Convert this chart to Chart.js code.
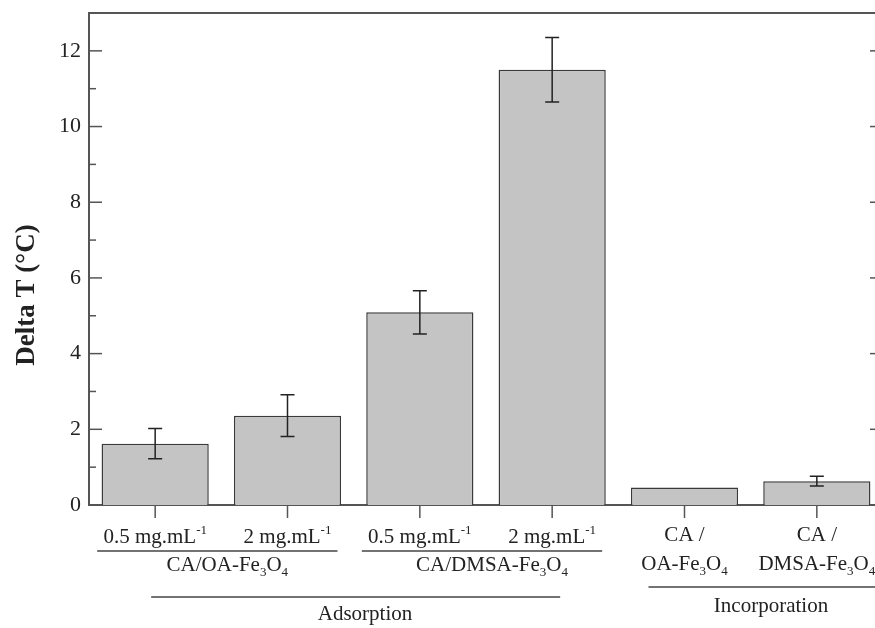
<!DOCTYPE html>
<html>
<head>
<meta charset="utf-8">
<script src="https://cdn.jsdelivr.net/npm/chart.js@4/dist/chart.umd.min.js"></script>
<style>
  html, body { margin: 0; padding: 0; background: #fff; overflow: hidden; }
  #wrap { width: 890px; height: 628px; }
</style>
</head>
<body>
<div id="wrap"><canvas id="heatChart" width="890" height="628"></canvas></div>
<script>
// values
const categories = ['CA/OA 0.5', 'CA/OA 2', 'CA/DMSA 0.5', 'CA/DMSA 2', 'Inc CA/OA', 'Inc CA/DMSA'];
const deltaT = [1.62, 2.36, 5.09, 11.5, 0.46, 0.63];
const deltaErr = [0.40, 0.55, 0.57, 0.85, 0, 0.13];
const yTicks = [0, 1, 2, 3, 4, 5, 6, 7, 8, 9, 10, 11, 12];

// tick labels (^{} = superscript, _{} = subscript)
const tickRow1 = ['0.5 mg.mL^{-1}', '2 mg.mL^{-1}', '0.5 mg.mL^{-1}', '2 mg.mL^{-1}', 'CA /', 'CA /'];
const tickRow2 = ['', '', '', '', 'OA-Fe_{3}O_{4}', 'DMSA-Fe_{3}O_{4}'];
const materialGroups = [
  { label: 'CA/OA-Fe_{3}O_{4}', from: 0, to: 1 },
  { label: 'CA/DMSA-Fe_{3}O_{4}', from: 2, to: 3 }
];
const methodGroups = [
  { label: 'Adsorption', from: 0, to: 3 },
  { label: 'Incorporation', from: 4, to: 5 }
];

const FONT = '"Liberation Serif", "Times New Roman", serif';
const INK = '#222';
const AXIS = '#555';
const LABEL_SIZE = 21;

function parseRich(str) {
  const segs = [];
  const re = /([_^])\{([^}]*)\}/g;
  let last = 0, m;
  while ((m = re.exec(str)) !== null) {
    if (m.index > last) segs.push({ t: str.slice(last, m.index), k: '' });
    segs.push({ t: m[2], k: m[1] });
    last = re.lastIndex;
  }
  if (last < str.length) segs.push({ t: str.slice(last), k: '' });
  return segs;
}

function drawRich(ctx, str, cx, y, size) {
  const segs = parseRich(str);
  const small = Math.round(size * 0.62);
  let total = 0;
  segs.forEach(s => {
    ctx.font = (s.k ? small : size) + 'px ' + FONT;
    s.w = ctx.measureText(s.t).width;
    total += s.w;
  });
  let x = cx - total / 2;
  ctx.textAlign = 'left';
  ctx.textBaseline = 'alphabetic';
  segs.forEach(s => {
    ctx.font = (s.k ? small : size) + 'px ' + FONT;
    let dy = 0;
    if (s.k === '^') dy = -size * 0.42;
    if (s.k === '_') dy = size * 0.22;
    ctx.fillText(s.t, x, y + dy);
    x += s.w;
  });
}

function hline(ctx, x1, x2, y) {
  ctx.beginPath();
  ctx.moveTo(x1, y);
  ctx.lineTo(x2, y);
  ctx.stroke();
}

const decorations = {
  id: 'decorations',
  afterDatasetsDraw(chart) {
    const { ctx, chartArea: a, scales: { x, y } } = chart;
    const meta = chart.getDatasetMeta(0);
    ctx.save();

    // error bars
    ctx.strokeStyle = INK;
    ctx.lineWidth = 1.5;
    deltaT.forEach((v, i) => {
      const e = deltaErr[i];
      if (!e) return;
      const bx = meta.data[i].x;
      const yt = y.getPixelForValue(v + e);
      const yb = y.getPixelForValue(v - e);
      ctx.beginPath();
      ctx.moveTo(bx, yt); ctx.lineTo(bx, yb);
      ctx.moveTo(bx - 7, yt); ctx.lineTo(bx + 7, yt);
      ctx.moveTo(bx - 7, yb); ctx.lineTo(bx + 7, yb);
      ctx.stroke();
    });

    // frame: top and right
    ctx.strokeStyle = AXIS;
    ctx.lineWidth = 2;
    hline(ctx, a.left - 1, a.right + 1, a.top);
    ctx.beginPath();
    ctx.moveTo(a.right, a.top); ctx.lineTo(a.right, a.bottom);
    ctx.stroke();

    // y ticks pointing inward, both sides
    ctx.lineWidth = 1.5;
    yTicks.forEach(v => {
      const py = y.getPixelForValue(v);
      const len = v % 2 === 0 ? 13 : 7;
      hline(ctx, a.left, a.left + len, py);
      hline(ctx, a.right - len, a.right, py);
    });

    // x ticks pointing down
    categories.forEach((c, i) => {
      const px = x.getPixelForValue(i);
      ctx.beginPath();
      ctx.moveTo(px, a.bottom); ctx.lineTo(px, a.bottom + 13);
      ctx.stroke();
    });

    // tick labels
    ctx.fillStyle = INK;
    tickRow1.forEach((t, i) => {
      const px = x.getPixelForValue(i);
      drawRich(ctx, t, px, i >= 4 ? 541 : 543, LABEL_SIZE);
    });
    tickRow2.forEach((t, i) => {
      if (t) drawRich(ctx, t, x.getPixelForValue(i), 570, LABEL_SIZE);
    });

    // group brackets
    ctx.strokeStyle = '#444';
    ctx.lineWidth = 1.5;
    materialGroups.forEach(g => {
      const x1 = x.getPixelForValue(g.from) - 58;
      const x2 = x.getPixelForValue(g.to) + 50;
      hline(ctx, x1, x2, 551);
      drawRich(ctx, g.label, (x1 + x2) / 2 + 10, 571, LABEL_SIZE);
    });
    methodGroups.forEach((g, k) => {
      const x1 = x.getPixelForValue(g.from) - (k === 0 ? 4 : 36);
      const x2 = k === 0 ? x.getPixelForValue(g.to) + 8 : a.right + 10;
      const ly = k === 0 ? 597 : 587;
      hline(ctx, x1, x2, ly);
      drawRich(ctx, g.label, k === 0 ? 365 : 771, k === 0 ? 620 : 612, LABEL_SIZE);
    });

    // y axis title
    ctx.save();
    ctx.translate(27, 295);
    ctx.rotate(-Math.PI / 2);
    ctx.font = 'bold 27px ' + FONT;
    ctx.textAlign = 'center';
    ctx.textBaseline = 'middle';
    ctx.fillText('Delta T (\u00B0C)', 0, 0);
    ctx.restore();

    ctx.restore();
  }
};

new Chart(document.getElementById('heatChart').getContext('2d'), {
  type: 'bar',
  data: {
    labels: categories,
    datasets: [{
      data: deltaT,
      backgroundColor: '#c4c4c4',
      borderColor: '#3a3a3a',
      borderWidth: 1.5,
      borderSkipped: 'bottom',
      categoryPercentage: 0.81,
      barPercentage: 1.0
    }]
  },
  options: {
    responsive: false,
    animation: false,
    layout: { padding: { left: 0, top: 13, right: 7, bottom: 123 } },
    plugins: { legend: { display: false }, tooltip: { enabled: false } },
    scales: {
      x: {
        grid: { display: false, drawTicks: false },
        border: { display: true, color: AXIS, width: 2 },
        ticks: { display: false },
        afterFit(scale) { scale.height = 0; }
      },
      y: {
        min: 0,
        max: 13,
        grid: { display: false, drawTicks: false },
        border: { display: true, color: AXIS, width: 2 },
        afterBuildTicks(scale) { scale.ticks = yTicks.map(v => ({ value: v })); },
        ticks: {
          padding: 8,
          color: INK,
          font: { family: FONT, size: 22 },
          callback: v => (v % 2 === 0 ? v : '')
        },
        afterFit(scale) {
          scale.width = 89;
          scale.paddingTop = 0;
          scale.paddingBottom = 0;
        }
      }
    }
  },
  plugins: [decorations]
});
</script>
</body>
</html>
